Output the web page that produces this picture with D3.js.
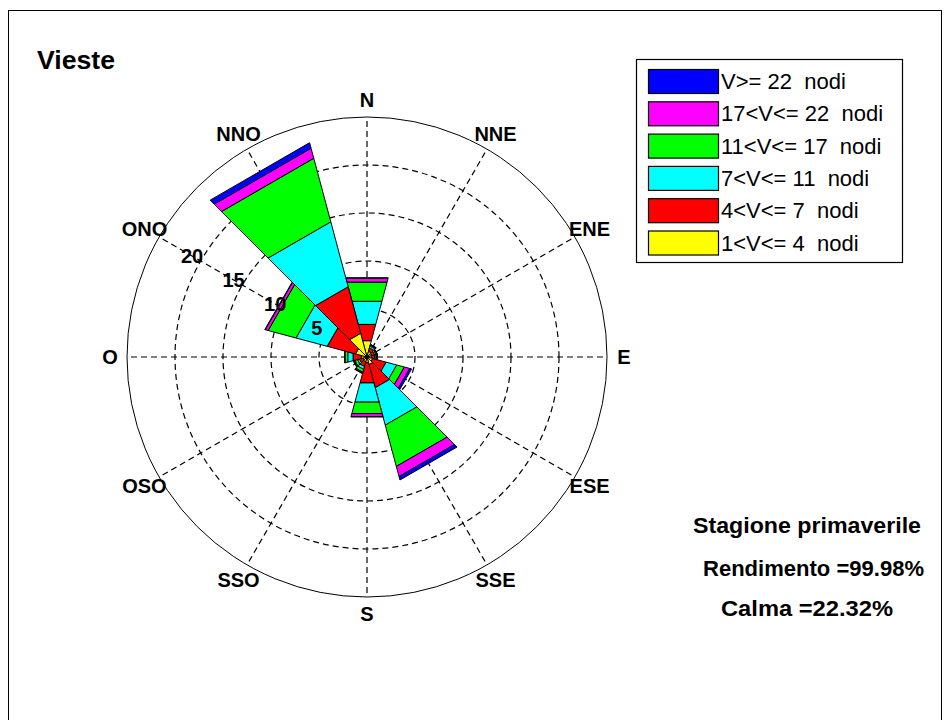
<!DOCTYPE html>
<html>
<head>
<meta charset="utf-8">
<script src="https://cdn.jsdelivr.net/npm/d3@7"></script>
<style>
  html, body { margin: 0; padding: 0; background: #fff; }
  svg { display: block; font-family: "Liberation Sans", Arial, sans-serif; }
  text { white-space: pre; }
</style>
</head>
<body>
<svg id="chart" width="950" height="720"></svg>
<script>
// ---- data ----
const directions = ["N","NNE","ENE","E","ESE","SSE","S","SSO","OSO","O","ONO","NNO"];
const classLabels = ["V>= 22  nodi","17<V<= 22  nodi","11<V<= 17  nodi","7<V<= 11  nodi","4<V<= 7  nodi","1<V<= 4  nodi"];
const classColors = ["#0000ff","#ff00ff","#00ff00","#00ffff","#ff0000","#ffff00"];
// frequencies (%) per direction, one array per speed class (inner to outer)
const v1to4   = [1.7, 0.6, 0.5, 0.5, 0.6, 0.8, 0.6, 0.5, 0.4, 0.6, 1.2, 2.47];
const v4to7   = [1.7, 0.35,0.3, 0.3, 1.4, 2.4, 2.1, 0.5, 0.4, 0.85,2.95,4.85];
const v7to11  = [2.4, 0.2, 0.15,0.15,1.1, 3.9, 2.0, 0.3, 0.2, 0.55,3.25,6.76];
const v11to17 = [2.0, 0.1, 0.1, 0.1, 0.8, 4.3, 1.2, 0.3, 0.3, 0.3, 2.9, 6.62];
const v17to22 = [0.4, 0.05,0.05,0.03,0.55,1.05,0.3, 0.1, 0.1, 0.02,0.3, 1.04];
const vOver22 = [0.05,0.02,0.0, 0.02,0.2, 0.36,0.05,0.05,0.05,0.0, 0.05,0.58];
const ringTicks = [5, 10, 15, 20];
const maxRing = 25;
const title = "Vieste";
const infoLines = ["Stagione primaverile", "Rendimento =99.98%", "Calma =22.32%"];

// ---- layout ----
const svg = d3.select("#chart");
const cx = 367, cy = 357;
const r = d3.scaleLinear().domain([0, maxRing]).range([0, 240]);
const angle = d3.scalePoint().domain(directions).range([0, 330]); // compass degrees

function pt(deg, rad) {
  const a = deg * Math.PI / 180;
  return [cx + rad * Math.sin(a), cy - rad * Math.cos(a)];
}

// outer frame
svg.append("rect").attr("x", 8.5).attr("y", 10.5).attr("width", 933).attr("height", 720)
  .attr("fill", "none").attr("stroke", "#000").attr("stroke-width", 1);

// grid
const g = svg.append("g");
ringTicks.forEach(t => {
  g.append("circle").attr("cx", cx).attr("cy", cy).attr("r", r(t))
    .attr("fill", "none").attr("stroke", "#000").attr("stroke-width", 1.2)
    .attr("stroke-dasharray", "6,4");
});
g.append("circle").attr("cx", cx).attr("cy", cy).attr("r", r(maxRing))
  .attr("fill", "none").attr("stroke", "#000").attr("stroke-width", 1);
directions.forEach(d => {
  const p = pt(angle(d), r(maxRing));
  g.append("line").attr("x1", cx).attr("y1", cy).attr("x2", p[0]).attr("y2", p[1])
    .attr("stroke", "#000").attr("stroke-width", 1.2).attr("stroke-dasharray", "6,4");
});

// wedges
const series = [v1to4, v4to7, v7to11, v11to17, v17to22, vOver22];
const seriesColors = classColors.slice().reverse();
const half = 15;
const wg = svg.append("g");
directions.forEach((d, i) => {
  let cum = 0;
  const th = angle(d);
  series.forEach((s, k) => {
    const v = s[i];
    if (v <= 0) return;
    const d0 = cum, d1 = cum + v;
    cum = d1;
    const k0 = r(d0) / Math.cos(half * Math.PI / 180);
    const k1 = r(d1) / Math.cos(half * Math.PI / 180);
    const pts = [pt(th - half, k0), pt(th - half, k1), pt(th + half, k1), pt(th + half, k0)];
    wg.append("path")
      .attr("d", "M" + pts.map(p => p.join(",")).join("L") + "Z")
      .attr("fill", seriesColors[k]).attr("stroke", "#000").attr("stroke-width", 1)
      .attr("stroke-linejoin", "miter");
  });
});

// ring labels
ringTicks.forEach(t => {
  const p = pt(300, r(t) + 10);
  svg.append("text").attr("x", p[0]).attr("y", p[1]).attr("text-anchor", "middle")
    .attr("dominant-baseline", "central").attr("font-size", 20).attr("font-weight", "bold")
    .attr("fill", "#000").text(t);
});

// direction labels
directions.forEach(d => {
  const p = pt(angle(d), 257);
  svg.append("text").attr("x", p[0]).attr("y", p[1]).attr("text-anchor", "middle")
    .attr("dominant-baseline", "central").attr("font-size", 20).attr("font-weight", "bold")
    .attr("fill", "#000").text(d);
});

// title
svg.append("text").attr("x", 37).attr("y", 69).attr("font-size", 26).attr("font-weight", "bold")
  .attr("textLength", 78).attr("lengthAdjust", "spacingAndGlyphs")
  .attr("fill", "#000").text(title);

// legend
const lg = svg.append("g");
lg.append("rect").attr("x", 636.5).attr("y", 59.5).attr("width", 266).attr("height", 203)
  .attr("fill", "#fff").attr("stroke", "#000").attr("stroke-width", 1.2);
classLabels.forEach((lab, i) => {
  const y = 69 + i * 32.3;
  lg.append("rect").attr("x", 648.5).attr("y", y + 0.5).attr("width", 70).attr("height", 24)
    .attr("fill", classColors[i]).attr("stroke", "#000").attr("stroke-width", 1.2);
  lg.append("text").attr("x", 721).attr("y", y + 12.5).attr("dominant-baseline", "central")
    .attr("font-size", 22).attr("fill", "#000").text(lab);
});

// info text
const infoY = [525, 568, 608];
const infoX = [807, 813.5, 807];
const infoW = [228, 221, 172];
infoLines.forEach((t, i) => {
  svg.append("text").attr("x", infoX[i]).attr("y", infoY[i]).attr("text-anchor", "middle")
    .attr("dominant-baseline", "central").attr("font-size", 22).attr("font-weight", "bold")
    .attr("textLength", infoW[i]).attr("lengthAdjust", "spacingAndGlyphs")
    .attr("fill", "#000").text(t);
});
</script>
</body>
</html>
